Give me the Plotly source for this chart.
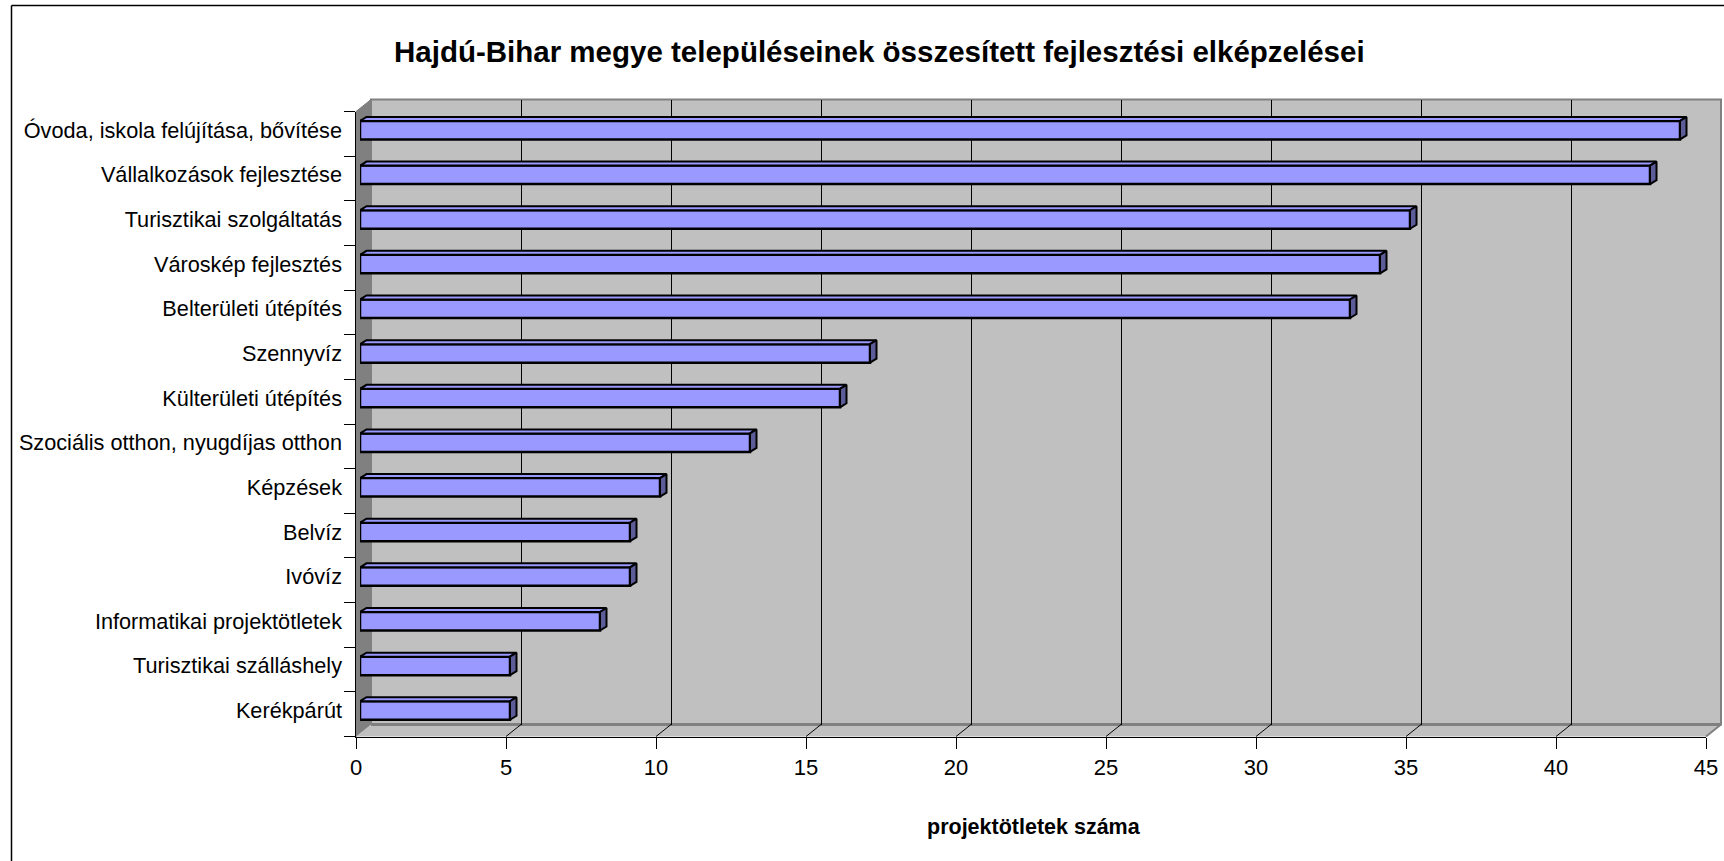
import plotly.graph_objects as go

# ---------------- data ----------------
categories = [
    "Óvoda, iskola felújítása, bővítése",
    "Vállalkozások fejlesztése",
    "Turisztikai szolgáltatás",
    "Városkép fejlesztés",
    "Belterületi útépítés",
    "Szennyvíz",
    "Külterületi útépítés",
    "Szociális otthon, nyugdíjas otthon",
    "Képzések",
    "Belvíz",
    "Ivóvíz",
    "Informatikai projektötletek",
    "Turisztikai szálláshely",
    "Kerékpárút",
]
values = [44, 43, 35, 34, 33, 17, 16, 13, 10, 9, 9, 8, 5, 5]
x_ticks = [0, 5, 10, 15, 20, 25, 30, 35, 40, 45]
title_text = "Hajdú-Bihar megye településeinek összesített fejlesztési elképzelései"
x_title = "projektötletek száma"

# ---------------- geometry (pixels) ----------------
W, H = 1724, 861
FRONT_L, FRONT_R = 356, 1706
FRONT_T, FRONT_B = 111.5, 736.5
DX, DY = 15, 12
BACK_L, BACK_R = FRONT_L + DX, FRONT_R + DX
BACK_T, BACK_B = FRONT_T - DY, FRONT_B - DY
BAR_L, BAR_R = 360, 1710
ROW = 44.64
BAR_TOP_CENTER = 130.2
BAR_DOM_T = BAR_TOP_CENTER - ROW / 2
BAR_DOM_B = BAR_DOM_T + ROW * len(categories)

XMAX = x_ticks[-1]
PX_PER_UNIT = (BAR_R - BAR_L) / XMAX
BAR_H = 18.5 / ROW
DXB = 6.5 / PX_PER_UNIT
DYB = 4.0 / ROW


def fx(x):
    return x / W


def fy(y):
    return 1 - y / H


FONT = "Liberation Sans, Arial, Helvetica, sans-serif"

n = len(categories)
ypos = [n - 1 - i for i in range(n)]

fig = go.Figure()

# main bars (front faces)
fig.add_trace(go.Bar(
    x=values, y=ypos, orientation="h", width=BAR_H,
    marker=dict(color="#9999FF", line=dict(color="black", width=2.5)),
    xaxis="x3", yaxis="y3", showlegend=False, hoverinfo="x",
))

# top and right faces computed from the values
top_x, top_y, right_x, right_y = [], [], [], []
for v, y in zip(values, ypos):
    yt = y + BAR_H / 2
    yb = y - BAR_H / 2
    top_x += [0, v, v + DXB, DXB, 0, None]
    top_y += [yt, yt, yt + DYB, yt + DYB, yt, None]
    right_x += [v, v + DXB, v + DXB, v, v, None]
    right_y += [yb, yb + DYB, yt + DYB, yt, yb, None]

fig.add_trace(go.Scatter(
    x=top_x, y=top_y, mode="lines", fill="toself", fillcolor="#9999FF",
    line=dict(color="black", width=2), xaxis="x3", yaxis="y3",
    showlegend=False, hoverinfo="skip",
))
fig.add_trace(go.Scatter(
    x=right_x, y=right_y, mode="lines", fill="toself", fillcolor="#5C5C99",
    line=dict(color="black", width=2), xaxis="x3", yaxis="y3",
    showlegend=False, hoverinfo="skip",
))

# invisible traces so that the back and front subplots exist
fig.add_trace(go.Scatter(x=[None], y=[None], xaxis="x", yaxis="y", showlegend=False))
fig.add_trace(go.Scatter(x=[None], y=[None], xaxis="x2", yaxis="y2", showlegend=False))

shapes = []
# back wall
shapes.append(dict(type="rect", xref="paper", yref="paper",
                   x0=fx(BACK_L), x1=fx(BACK_R), y0=fy(BACK_B), y1=fy(BACK_T),
                   fillcolor="#C0C0C0", line=dict(color="#808080", width=2), layer="below"))
# left wall
shapes.append(dict(type="path", xref="paper", yref="paper",
                   path=f"M {fx(FRONT_L)},{fy(FRONT_T)} L {fx(BACK_L)},{fy(BACK_T)} "
                        f"L {fx(BACK_L)},{fy(BACK_B)} L {fx(FRONT_L)},{fy(FRONT_B)} Z",
                   fillcolor="#808080", line=dict(color="#808080", width=1), layer="below"))
# floor
shapes.append(dict(type="path", xref="paper", yref="paper",
                   path=f"M {fx(FRONT_L)},{fy(FRONT_B)} L {fx(BACK_L)},{fy(BACK_B)} "
                        f"L {fx(BACK_R)},{fy(BACK_B)} L {fx(FRONT_R)},{fy(FRONT_B)} Z",
                   fillcolor="#C0C0C0", line=dict(color="#C0C0C0", width=0), layer="below"))
# back floor edge
shapes.append(dict(type="line", xref="paper", yref="paper",
                   x0=fx(BACK_L), x1=fx(BACK_R), y0=fy(BACK_B), y1=fy(BACK_B),
                   line=dict(color="#808080", width=3), layer="below"))
# right floor edge
shapes.append(dict(type="line", xref="paper", yref="paper",
                   x0=fx(FRONT_R), x1=fx(BACK_R), y0=fy(FRONT_B), y1=fy(BACK_B),
                   line=dict(color="#808080", width=2), layer="below"))
# diagonal tick lines on the floor
for t in x_ticks[1:-1]:
    xf = FRONT_L + (FRONT_R - FRONT_L) * t / XMAX
    shapes.append(dict(type="line", xref="paper", yref="paper",
                       x0=fx(xf), x1=fx(xf + DX), y0=fy(FRONT_B), y1=fy(BACK_B),
                       line=dict(color="black", width=1), layer="below"))
# outer frame (left and top edges only; the rest is outside the picture)
shapes.append(dict(type="line", xref="paper", yref="paper",
                   x0=fx(11.5), x1=fx(11.5), y0=0, y1=fy(5.5),
                   line=dict(color="black", width=1.5), layer="above"))
shapes.append(dict(type="line", xref="paper", yref="paper",
                   x0=fx(11.5), x1=1, y0=fy(5.5), y1=fy(5.5),
                   line=dict(color="black", width=1.5), layer="above"))

fig.update_layout(
    width=W, height=H, margin=dict(l=0, r=0, t=0, b=0),
    paper_bgcolor="white", plot_bgcolor="rgba(0,0,0,0)",
    showlegend=False, shapes=shapes,
    # back wall subplot (gridlines)
    xaxis=dict(domain=[fx(BACK_L), fx(BACK_R)], range=[0, XMAX], tickvals=x_ticks[1:-1],
               showgrid=True, gridcolor="black", gridwidth=1, showticklabels=False,
               ticks="", zeroline=False, showline=False, anchor="y", automargin=False),
    yaxis=dict(domain=[fy(BACK_B), fy(BACK_T)], range=[0, 1], showgrid=False,
               showticklabels=False, zeroline=False, showline=False, anchor="x", automargin=False),
    # front subplot (axes, ticks)
    xaxis2=dict(domain=[fx(FRONT_L), fx(FRONT_R)], range=[0, XMAX], tickvals=x_ticks,
                ticks="outside", ticklen=11, tickwidth=1, tickcolor="black",
                showline=True, linecolor="black", linewidth=1, showgrid=False, zeroline=False,
                tickfont=dict(family=FONT, size=22, color="black"), anchor="y2", automargin=False),
    yaxis2=dict(domain=[fy(FRONT_B), fy(FRONT_T)], range=[0, n], tickvals=list(range(n + 1)),
                ticks="outside", ticklen=11, tickwidth=1, tickcolor="black", showticklabels=False,
                showline=True, linecolor="black", linewidth=1, showgrid=False, zeroline=False,
                anchor="x2", automargin=False),
    # bars subplot
    xaxis3=dict(domain=[fx(BAR_L), fx(BAR_R)], range=[0, XMAX], visible=False,
                anchor="y3", automargin=False),
    yaxis3=dict(domain=[fy(BAR_DOM_B), fy(BAR_DOM_T)], range=[-0.5, n - 0.5],
                tickvals=ypos, ticktext=categories, ticks="", ticklabelstandoff=17,
                showgrid=False, zeroline=False, showline=False,
                tickfont=dict(family=FONT, size=21.7, color="black"), anchor="x3", automargin=False),
    annotations=[
        dict(text=f"<b>{title_text}</b>", xref="paper", yref="paper",
             x=fx(879), y=fy(52), xanchor="center", yanchor="middle", showarrow=False,
             font=dict(family=FONT, size=29.5, color="black")),
        dict(text=f"<b>{x_title}</b>", xref="paper", yref="paper",
             x=fx(1034), y=fy(827), xanchor="center", yanchor="middle", showarrow=False,
             font=dict(family=FONT, size=21.5, color="black")),
    ],
)

fig.write_html("out.html", config={"displayModeBar": False},
               post_script="document.body.style.margin='0';document.body.style.overflow='hidden';")
